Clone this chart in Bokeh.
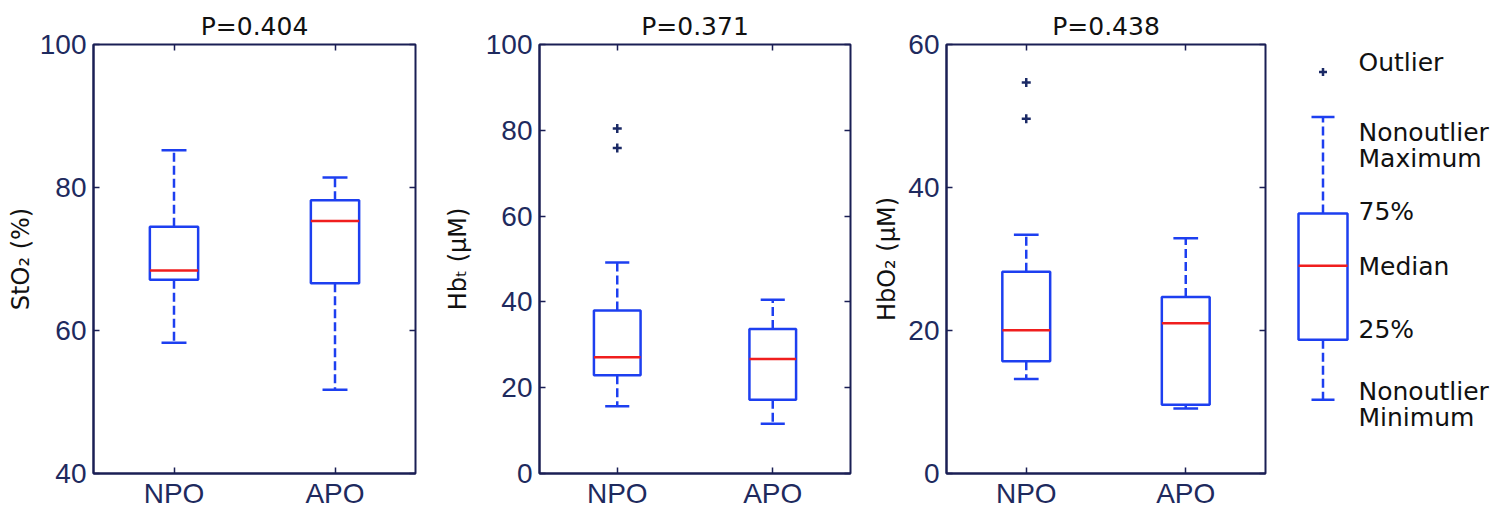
from bokeh.plotting import figure
from bokeh.layouts import row
from bokeh.models import (Range1d, LinearAxis, FixedTicker, CustomJSTickFormatter,
                          ColumnDataSource)
from bokeh.embed import file_html
from bokeh.resources import INLINE
from bokeh.core.properties import value

# ---------------- data ----------------
categories = ["NPO", "APO"]
cat_pos = [1, 2]
titles = ["P=0.404", "P=0.371", "P=0.438"]
ylabels = ["StO₂ (%)", "Hbₜ (μM)", "HbO₂ (μM)"]

# StO2 (%)
sto2_lo = [58.3, 51.7]
sto2_q1 = [67.1, 66.6]
sto2_med = [68.4, 75.3]
sto2_q3 = [74.5, 78.2]
sto2_hi = [85.2, 81.4]
sto2_out_cat = []
sto2_out_val = []
sto2_ticks = [40, 60, 80, 100]

# HbT (uM)
hbt_lo = [15.7, 11.6]
hbt_q1 = [22.9, 17.2]
hbt_med = [27.1, 26.7]
hbt_q3 = [38.0, 33.7]
hbt_hi = [49.2, 40.5]
hbt_out_cat = ["NPO", "NPO"]
hbt_out_val = [80.4, 75.9]
hbt_ticks = [0, 20, 40, 60, 80, 100]

# HbO2 (uM)
hbo2_lo = [13.2, 9.1]
hbo2_q1 = [15.7, 9.6]
hbo2_med = [20.05, 21.0]
hbo2_q3 = [28.2, 24.7]
hbo2_hi = [33.4, 32.9]
hbo2_out_cat = ["NPO", "NPO"]
hbo2_out_val = [54.7, 49.6]
hbo2_ticks = [0, 20, 40, 60]

# legend schematic (arbitrary 0-100 scale)
legend_stats = {"lo": 17.2, "q1": 31.2, "med": 48.4, "q3": 60.6, "hi": 83.1, "out": 93.6}
legend_labels = ["Outlier", "Nonoutlier", "Maximum", "75%", "Median", "25%",
                 "Nonoutlier", "Minimum"]
legend_text_y = [95.9, 79.6, 73.5, 61.0, 48.2, 33.5, 19.1, 13.0]

# ---------------- style ----------------
H = 511
NAVY = "#1a1f55"
TICKC = "#1e2a5e"
BLUE = "#1d3ff0"
RED = "#f01e1e"
OUTC = "#1b2a66"
TXTC = "#111111"
BW = 0.3
CAP = 0.155
DASH = "9 4"
TICK_FONT = "Liberation Sans"
TXT_FONT = "DejaVu Sans"


def blank_axis(ticks):
    return LinearAxis(ticker=FixedTicker(ticks=ticks),
                      formatter=CustomJSTickFormatter(code="return ''"),
                      major_tick_in=6, major_tick_out=0, axis_line_color=None,
                      major_label_text_font_size="1px", major_label_standoff=0,
                      major_tick_line_color=NAVY, major_tick_line_width=1.5,
                      minor_tick_line_color=None)


def make_panel(title, ylabel, lo, q1, med, q3, hi, out_cat, out_val, yr, yticks,
               width, bl, br, lab_standoff):
    p = figure(width=width, height=H, x_range=Range1d(0.5, 2.5),
               y_range=Range1d(yr[0], yr[1]), output_backend="svg",
               toolbar_location=None, min_border_left=bl, min_border_right=br,
               min_border_top=44, min_border_bottom=30, title=title)
    p.title.align = "center"
    p.title.text_font = TXT_FONT
    p.title.text_font_size = "25px"
    p.title.text_font_style = "normal"
    p.title.text_color = TXTC
    p.title.standoff = 7
    p.grid.visible = False
    p.outline_line_color = NAVY
    p.outline_line_width = 2
    p.background_fill_color = "white"
    p.border_fill_color = "white"

    for ax, ticks in ((p.xaxis[0], cat_pos), (p.yaxis[0], yticks)):
        ax.ticker = FixedTicker(ticks=ticks)
        ax.major_tick_in = 6
        ax.major_tick_out = 0
        ax.minor_tick_line_color = None
        ax.axis_line_color = NAVY
        ax.axis_line_width = 2
        ax.major_tick_line_color = NAVY
        ax.major_tick_line_width = 1.5
        ax.major_label_text_font = TICK_FONT
        ax.major_label_text_font_size = "28px"
        ax.major_label_text_color = TICKC
    p.xaxis[0].major_label_overrides = {pos: c for pos, c in zip(cat_pos, categories)}
    p.xaxis[0].major_label_standoff = 4
    yax = p.yaxis[0]
    yax.major_label_standoff = 7
    yax.axis_label = ylabel
    yax.axis_label_text_font = TXT_FONT
    yax.axis_label_text_font_size = "24px"
    yax.axis_label_text_font_style = "normal"
    yax.axis_label_text_color = TXTC
    yax.axis_label_standoff = lab_standoff

    p.add_layout(blank_axis(yticks), "right")
    p.add_layout(blank_axis(cat_pos), "above")

    src = ColumnDataSource(dict(
        x=cat_pos, lo=lo, q1=q1, med=med, q3=q3, hi=hi,
        xl=[x - BW / 2 for x in cat_pos], xr=[x + BW / 2 for x in cat_pos],
        cl=[x - CAP / 2 for x in cat_pos], cr=[x + CAP / 2 for x in cat_pos]))

    p.segment(x0="x", y0="q3", x1="x", y1="hi", source=src, line_color=BLUE,
              line_width=2.5, line_dash=DASH)
    p.segment(x0="x", y0="q1", x1="x", y1="lo", source=src, line_color=BLUE,
              line_width=2.5, line_dash=DASH)
    p.segment(x0="cl", y0="hi", x1="cr", y1="hi", source=src, line_color=BLUE, line_width=2.5)
    p.segment(x0="cl", y0="lo", x1="cr", y1="lo", source=src, line_color=BLUE, line_width=2.5)
    p.vbar(x="x", width=BW, bottom="q1", top="q3", source=src, fill_color="white",
           line_color=BLUE, line_width=2.5)
    p.segment(x0="xl", y0="med", x1="xr", y1="med", source=src, line_color=RED, line_width=2.5)

    if out_val:
        ox = [cat_pos[categories.index(c)] for c in out_cat]
        p.scatter(ox, out_val, marker="cross", size=9, line_color=OUTC, line_width=2.5)
    return p


p1 = make_panel(titles[0], ylabels[0], sto2_lo, sto2_q1, sto2_med, sto2_q3, sto2_hi,
                sto2_out_cat, sto2_out_val, (40, 100), sto2_ticks, 440, 93, 25, 2)
p2 = make_panel(titles[1], ylabels[1], hbt_lo, hbt_q1, hbt_med, hbt_q3, hbt_hi,
                hbt_out_cat, hbt_out_val, (0, 100), hbt_ticks, 430, 88, 20, 11)
p3 = make_panel(titles[2], ylabels[2], hbo2_lo, hbo2_q1, hbo2_med, hbo2_q3, hbo2_hi,
                hbo2_out_cat, hbo2_out_val, (0, 60), hbo2_ticks, 410, 73, 15, 4)

# ---------------- legend panel ----------------
# (its frame is aligned with the plot frames by the row layout)
LW = 230
lg = figure(width=LW, height=H, x_range=Range1d(0, LW), y_range=Range1d(0, 100),
            output_backend="svg", toolbar_location=None, min_border=0,
            min_border_top=44, min_border_bottom=37,
            x_axis_location=None, y_axis_location=None)
lg.grid.visible = False
lg.outline_line_color = None
LX, LBW, LCW, TX = 42.5, 49, 23, 78
s = legend_stats
lg.segment(x0=[LX, LX], y0=[s["q3"], s["q1"]], x1=[LX, LX], y1=[s["hi"], s["lo"]],
           line_color=BLUE, line_width=2.5, line_dash=DASH)
lg.segment(x0=[LX - LCW / 2] * 2, y0=[s["hi"], s["lo"]], x1=[LX + LCW / 2] * 2,
           y1=[s["hi"], s["lo"]], line_color=BLUE, line_width=2.5)
lg.rect(x=[LX], y=[(s["q1"] + s["q3"]) / 2], width=LBW, height=s["q3"] - s["q1"],
        fill_color="white", line_color=BLUE, line_width=2.5)
lg.segment(x0=[LX - LBW / 2], y0=[s["med"]], x1=[LX + LBW / 2], y1=[s["med"]],
           line_color=RED, line_width=2.5)
lg.scatter([LX], [s["out"]], marker="cross", size=8, line_color=OUTC, line_width=2.5)
lg.text(x=[TX] * len(legend_labels), y=legend_text_y, text=legend_labels,
        text_baseline="middle", text_align="left", text_font=value(TXT_FONT),
        text_font_size="25px", text_color=TXTC)

layout = row(p1, p2, p3, lg, spacing=0)
open("out.html", "w").write(file_html(layout, INLINE))
